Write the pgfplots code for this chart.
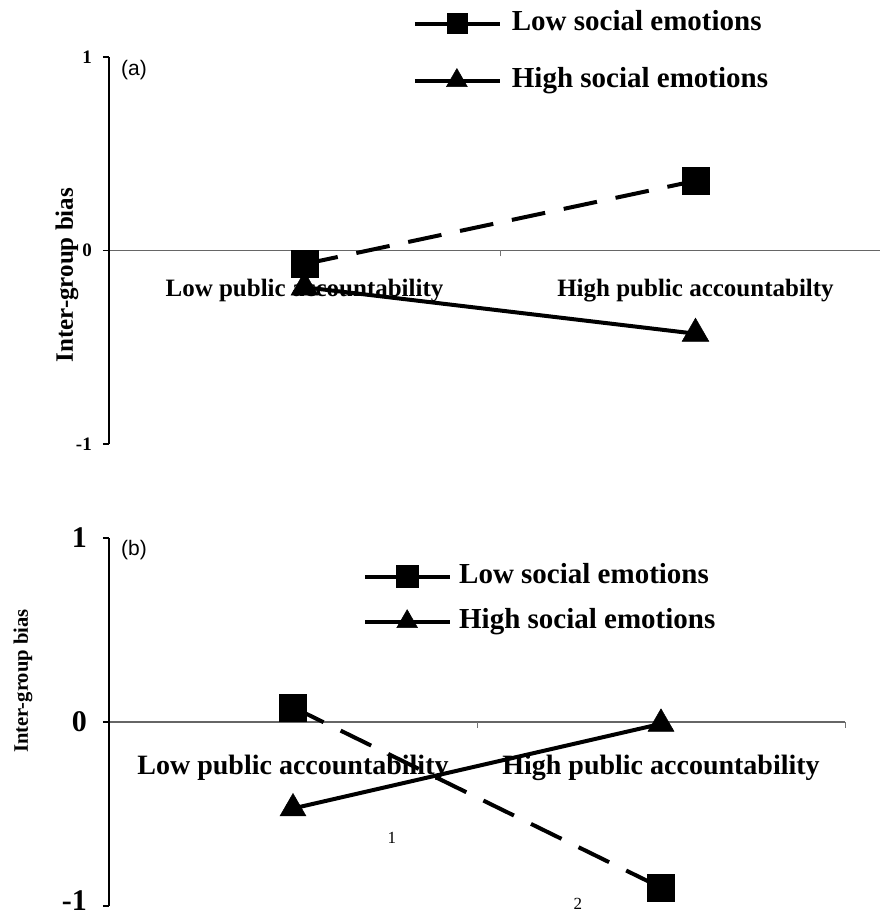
\documentclass[border=0pt]{standalone}
\usepackage{fontspec}
\setmainfont{Liberation Serif}
\newfontfamily\arialfont{Liberation Sans}
\usepackage{pgfplots}
\pgfplotsset{compat=1.18}
\newcommand{\fs}[1]{\fontsize{#1bp}{#1bp}\selectfont}
\begin{document}
\begin{tikzpicture}
\path[use as bounding box] (0,0) rectangle (880bp,919bp);
\pgfplotsset{
  scale only axis,
  axis y line=left,
  axis x line=middle,
  axis line style={-},
  x axis line style={draw=black!60, line width=1.3bp},
  y axis line style={draw=black, line width=1.3bp},
  ymin=-1, ymax=1, xmin=0.5,
  ytick={-1,0,1},
  xtick={1,2},
  tick align=outside,
  major tick length=6bp,
  xtick style={draw=none},
  ytick style={line width=1.3bp, black},
  extra x tick labels={},
  extra x tick style={xtick style={draw=black!55, line width=0.8bp}},
  clip=false,
  legend cell align=left,
  legend image code/.code={\draw[mark repeat=2,mark phase=2,#1] plot coordinates {(0bp,0bp) (42bp,0bp) (85bp,0bp)};},
  every legend image post/.append style={solid},
}
% ---------------- panel (a)
\begin{axis}[
  at={(109bp,475bp)}, anchor=south west,
  width=771bp, height=387bp,
  xmax=2.4719,
  extra x ticks={1.5},
  yticklabels={-1,0,1},
  xticklabels={Low public accountability, High public accountabilty},
  xticklabel style={font=\fs{25}\bfseries, anchor=base, yshift=-40bp},
  yticklabel style={font=\fs{19}\bfseries, inner sep=0pt, xshift=-11bp},
  ylabel={Inter-group bias},
  every axis y label/.style={at={(axis description cs:-0.0545,0.4367)}, rotate=90, anchor=center, font=\fs{25}\bfseries},
  legend style={draw=none, fill=none, at={(axis description cs:0.39,1.127)}, anchor=north west,
    font=\fs{29}\bfseries, row sep=30bp, column sep=10bp,
    nodes={inner sep=0pt, text height=20bp, text depth=7bp}},
]
\addplot[black, line width=4bp, dash pattern=on 34bp off 19bp, mark=square*, mark size=13.5bp,
  mark options={solid, line width=0.5bp}, legend image post style={mark size=10bp}]
  coordinates {(1,-0.07) (2,0.36)};
\addlegendentry{Low social emotions}
\addplot[black, line width=4bp, mark=triangle*, mark size=15.5bp,
  mark options={solid, line width=0.5bp}, legend image post style={mark size=12bp}]
  coordinates {(1,-0.19) (2,-0.43)};
\addlegendentry{High social emotions}
\node[font=\arialfont\fs{21}] at (axis description cs:0.0324,0.9664) {(a)};
\end{axis}
% ---------------- panel (b)
\begin{axis}[
  at={(109bp,13bp)}, anchor=south west,
  width=736bp, height=368bp,
  xmax=2.5,
  extra x ticks={1.5,2.5},
  yticklabels={{\raisebox{10bp}{-1}},0,1},
  xticklabels={Low public accountability, High public accountability},
  xticklabel style={font=\fs{28}\bfseries, anchor=base, yshift=-46.5bp},
  yticklabel style={font=\fs{30}\bfseries, inner sep=0pt, xshift=-16bp},
  ylabel={Inter-group bias},
  every axis y label/.style={at={(axis description cs:-0.117,0.611)}, rotate=90, anchor=center, font=\fs{20.6}\bfseries},
  legend style={draw=none, fill=none, at={(axis description cs:0.341,0.9375)}, anchor=north west,
    font=\fs{29}\bfseries, row sep=18bp, column sep=7bp,
    nodes={inner sep=0pt, text height=20bp, text depth=7bp}},
]
\addplot[black, line width=4bp, dash pattern=on 34bp off 19bp, mark=square*, mark size=13.5bp,
  mark options={solid, line width=0.5bp}, legend image post style={mark size=11bp}]
  coordinates {(1,0.08) (2,-0.90)};
\addlegendentry{Low social emotions}
\addplot[black, line width=4bp, mark=triangle*, mark size=15bp,
  mark options={solid, line width=0.5bp}, legend image post style={mark size=12bp}]
  coordinates {(1,-0.47) (2,-0.01)};
\addlegendentry{High social emotions}
\node[font=\arialfont\fs{21}] at (axis description cs:0.034,0.967) {(b)};
\node[font=\fs{17}] at (axis description cs:0.3845,0.185) {1};
\node[font=\fs{17}] at (axis description cs:0.637,0.005) {2};
\end{axis}
\end{tikzpicture}
\end{document}
